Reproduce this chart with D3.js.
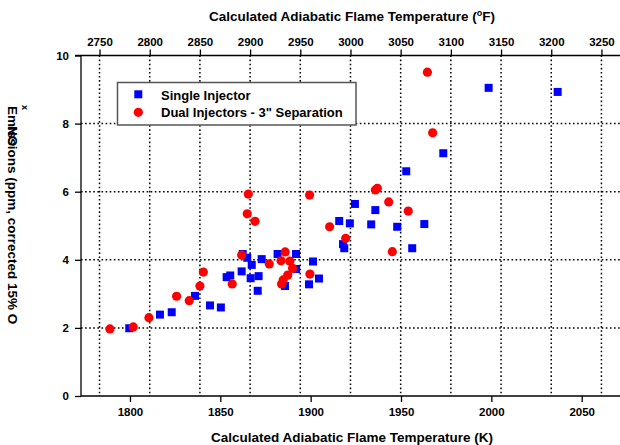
<!DOCTYPE html>
<html><head><meta charset="utf-8">
<script src="https://cdn.jsdelivr.net/npm/d3@7"></script>
<style>
html,body{margin:0;padding:0;background:#fff;}
svg{display:block;font-family:"Liberation Sans",Arial,sans-serif;font-weight:bold;}
</style></head>
<body><svg id="c" width="620" height="445"></svg>
<script>
// Data: temperature in K, NOx emissions (ppm, corrected 15% O2)
const singleK = [1799.6,1816.6,1823.1,1836.0,1844.3,1850.3,1853.5,1855.5,1861.8,1862.4,1864.9,1866.8,1867.4,1870.7,1871.2,1872.9,1881.7,1885.8,1891.9,1891.9,1899.1,1901.3,1904.6,1915.8,1917.9,1918.6,1921.7,1924.5,1933.5,1935.8,1947.9,1952.9,1956.2,1962.9,1973.4,1998.5,2036.7];
const singleNOx = [1.99,2.39,2.46,2.94,2.66,2.60,3.49,3.54,3.66,4.17,4.06,3.46,3.85,3.09,3.52,4.02,4.17,3.23,4.17,3.73,3.28,3.95,3.45,5.14,4.46,4.34,5.07,5.64,5.04,5.46,4.97,6.60,4.34,5.05,7.13,9.05,8.93];
const dualK = [1788.9,1801.8,1810.5,1825.8,1832.8,1838.7,1840.6,1856.6,1861.8,1864.9,1865.5,1869.2,1877.1,1883.6,1883.9,1884.8,1885.9,1887.3,1888.5,1890.0,1899.4,1899.6,1910.5,1919.4,1935.8,1936.9,1943.2,1945.2,1954.0,1964.6,1967.5];
const dualNOx = [1.97,2.03,2.30,2.93,2.80,3.23,3.64,3.29,4.14,5.35,5.93,5.13,3.88,3.97,3.29,3.41,4.23,3.55,3.96,3.75,5.90,3.58,4.97,4.63,6.05,6.10,5.70,4.24,5.43,9.51,7.73];
const kTicks = [1800,1850,1900,1950,2000,2050];
const fTicks = [2750,2800,2850,2900,2950,3000,3050,3100,3150,3200,3250];
const yTicks = [0,2,4,6,8,10];
const seriesNames = ["Single Injector","Dual Injectors - 3\" Separation"];

const svg = d3.select("#c");
const x = d3.scaleLinear().domain([1772.9, 2071.2]).range([81, 620]);
const y = d3.scaleLinear().domain([0, 10]).range([396, 55.5]);
const f2k = f => (f - 32) / 1.8 + 273.15;
const L = 81, R = 620, T = 55.5, B = 396;

// grid
const g = svg.append("g");
g.selectAll("line.vg").data(fTicks).enter().append("line")
  .attr("x1", d => x(f2k(d))).attr("x2", d => x(f2k(d)))
  .attr("y1", T).attr("y2", B)
  .attr("stroke", "#000").attr("stroke-width", 1.5).attr("stroke-dasharray", "1.6,2.5");
g.selectAll("line.hg").data(yTicks.filter(d => d > 0 && d < 10)).enter().append("line")
  .attr("x1", L).attr("x2", R)
  .attr("y1", d => y(d)).attr("y2", d => y(d))
  .attr("stroke", "#000").attr("stroke-width", 1.5).attr("stroke-dasharray", "1.6,2.5");

// axes
const axB = d3.axisBottom(x).tickValues(kTicks).tickSize(6).tickPadding(6).tickFormat(d3.format("d"));
const axT = d3.axisTop(x).tickValues(fTicks.map(f2k)).tickSize(6).tickPadding(4)
  .tickFormat((d, i) => fTicks[i]);
const axL = d3.axisLeft(y).tickValues(yTicks).tickSize(6).tickPadding(6).tickFormat(d3.format("d"));

function styleAxis(sel) {
  sel.select(".domain").attr("stroke", "#000").attr("stroke-width", 1.3);
  sel.selectAll(".tick line").attr("stroke", "#000").attr("stroke-width", 1.3);
  sel.selectAll(".tick text").attr("fill", "#000").style("font-size", "11.5px").style("font-weight", "bold")
    .style("font-family", '"Liberation Sans",Arial,sans-serif');
}
const gB = svg.append("g").attr("transform", `translate(0,${B})`).call(axB);
gB.select(".domain").attr("d", `M${L},0H${R}`);
styleAxis(gB);
const gT = svg.append("g").attr("transform", `translate(0,${T})`).call(axT);
gT.select(".domain").attr("d", `M${L - 6},0H${R}`);
styleAxis(gT);
const gL = svg.append("g").attr("transform", `translate(${L},0)`).call(axL);
gL.select(".domain").attr("d", `M0,${T}V${B}`);
styleAxis(gL);

// data
const sq = 8;
svg.append("g").selectAll("rect").data(singleK.map((k, i) => [k, singleNOx[i]])).enter().append("rect")
  .attr("x", d => x(d[0]) - sq / 2).attr("y", d => y(d[1]) - sq / 2)
  .attr("width", sq).attr("height", sq).attr("fill", "#0000ff");
svg.append("g").selectAll("circle").data(dualK.map((k, i) => [k, dualNOx[i]])).enter().append("circle")
  .attr("cx", d => x(d[0])).attr("cy", d => y(d[1])).attr("r", 4.6).attr("fill", "#ff0000");

// legend
const lg = svg.append("g");
lg.append("rect").attr("x", 117.5).attr("y", 82.5).attr("width", 238.5).attr("height", 42.5)
  .attr("fill", "#fff").attr("stroke", "#555").attr("stroke-width", 1.5);
lg.append("rect").attr("x", 138.3 - 4).attr("y", 94.3 - 4).attr("width", 8).attr("height", 8).attr("fill", "#0000ff");
lg.append("circle").attr("cx", 138.3).attr("cy", 112.3).attr("r", 4.6).attr("fill", "#ff0000");
lg.selectAll("text").data(seriesNames).enter().append("text")
  .attr("x", 161).attr("y", (d, i) => i === 0 ? 99.5 : 117)
  .style("font-size", "13px").text(d => d);

// titles
const tt = svg.append("text").attr("x", 352).attr("y", 20.5).attr("text-anchor", "middle").style("font-size", "13.5px");
tt.append("tspan").text("Calculated Adiabatic Flame Temperature (");
tt.append("tspan").attr("dy", -5).style("font-size", "9px").text("o");
tt.append("tspan").attr("dy", 5).text("F)");
svg.append("text").attr("x", 352).attr("y", 441.5).attr("text-anchor", "middle").style("font-size", "13.5px")
  .text("Calculated Adiabatic Flame Temperature (K)");

// y label (as rendered in the original, with overlapping NOx)
svg.append("text").attr("transform", "translate(8,106) rotate(90)").style("font-size", "13.5px")
  .text("Emissions (ppm, corrected 15% O");
svg.append("text").attr("transform", "translate(8,126) rotate(90)").style("font-size", "13.5px").text("NO");
svg.append("text").attr("transform", "translate(22,105) rotate(90)").style("font-size", "9px").text("x");
</script></body></html>
